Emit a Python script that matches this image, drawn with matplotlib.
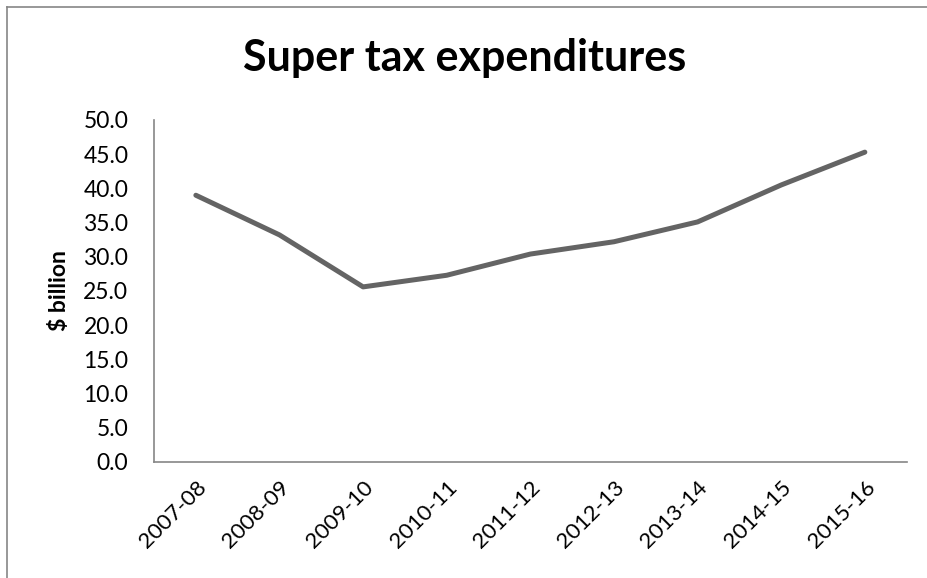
import matplotlib
matplotlib.use("Agg")
from matplotlib import pyplot as plt
from matplotlib.lines import Line2D

# data
years = ["2007-08", "2008-09", "2009-10", "2010-11", "2011-12",
         "2012-13", "2013-14", "2014-15", "2015-16"]
expenditure = [39.0, 33.2, 25.6, 27.3, 30.4, 32.2, 35.1, 40.5, 45.3]
y_ticks = [0, 5, 10, 15, 20, 25, 30, 35, 40, 45, 50]

plt.rcParams['font.family'] = ['Lato', 'DejaVu Sans']

fig = plt.figure(figsize=(9.28, 5.78), dpi=100)
ax = fig.add_axes([0.166, 0.2007, 0.811, 0.5917])

x = list(range(len(years)))
ax.plot(x, expenditure, color='#646464', linewidth=3.6, solid_capstyle='round')

ax.set_xlim(-0.5, len(years) - 0.5)
ax.set_ylim(0, 50)
ax.set_yticks(y_ticks)
ax.set_yticklabels([f"{v:.1f}" for v in y_ticks])
ax.set_xticks(x)
ax.set_xticklabels(years, rotation=45, ha='right', rotation_mode='anchor')
ax.tick_params(axis='y', length=0, labelsize=16.5, pad=18.5)
ax.tick_params(axis='x', length=0, labelsize=16, pad=11)

for side in ['top', 'right']:
    ax.spines[side].set_visible(False)
for side in ['left', 'bottom']:
    ax.spines[side].set_color('#868686')
    ax.spines[side].set_linewidth(1.2)

ax.set_ylabel('$ billion', fontsize=16.5, fontweight='bold')
ax.yaxis.set_label_coords(-0.112, 0.5)

fig.text(0.501, 0.9, 'Super tax expenditures', ha='center', va='center',
         fontsize=31, fontweight='bold')

# chart-area border (top and left visible in the reference)
fig.add_artist(Line2D([0.008, 1.0], [0.9875, 0.9875], transform=fig.transFigure,
                      color='#868686', linewidth=1.2))
fig.add_artist(Line2D([0.008, 0.008], [0.0, 0.9875], transform=fig.transFigure,
                      color='#868686', linewidth=1.2))

plt.savefig('out.png', dpi=100)
